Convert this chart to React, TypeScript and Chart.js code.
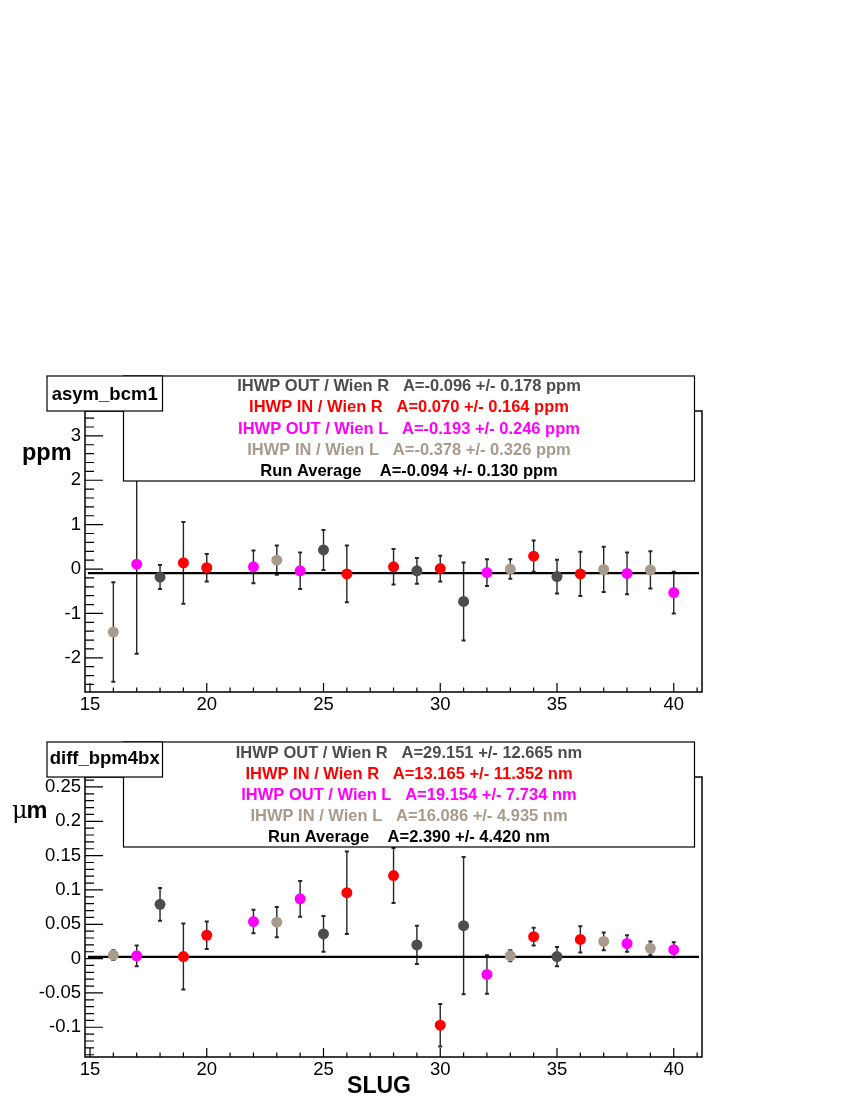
import React, { useEffect, useRef } from 'react';
import { Chart, registerables } from 'chart.js';

Chart.register(...registerables);

const FONT = '"Liberation Sans", Arial, Helvetica, sans-serif';

// colours of the four IHWP / Wien states
const colOutR = '#4d4d4d';
const colInR = '#ff0000';
const colOutL = '#ff00ff';
const colInL = '#a89a8c';

// slugs taken in each state
const slugsOutR = [18, 25, 29, 31, 35];
const slugsInR = [19, 20, 26, 28, 30, 34, 36];
const slugsOutL = [17, 22, 24, 32, 38, 40];
const slugsInL = [16, 23, 33, 37, 39];

// asym_bcm1 [ppm]
const bcmOutR = [-0.18, 0.43, -0.04, -0.73, -0.17];
const bcmOutRErr = [0.27, 0.45, 0.29, 0.88, 0.38];
const bcmInR = [0.14, 0.03, -0.11, 0.05, 0.01, 0.29, -0.11];
const bcmInRErr = [0.92, 0.31, 0.64, 0.4, 0.29, 0.35, 0.5];
const bcmOutL = [0.11, 0.05, -0.04, -0.08, -0.1, -0.53];
const bcmOutLErr = [2.02, 0.37, 0.41, 0.3, 0.47, 0.47];
const bcmInL = [-1.42, 0.2, 0.0, -0.01, -0.02];
const bcmInLErr = [1.12, 0.33, 0.22, 0.51, 0.42];
const bcmAverage = -0.094;

// diff_bpm4bx [um]
const bpmOutR = [0.079, 0.036, 0.02, 0.048, 0.003];
const bpmOutRErr = [0.024, 0.026, 0.028, 0.1, 0.014];
const bpmInR = [0.003, 0.034, 0.096, 0.121, -0.097, 0.032, 0.028];
const bpmInRErr = [0.048, 0.02, 0.06, 0.04, 0.031, 0.013, 0.019];
const bpmOutL = [0.004, 0.054, 0.087, -0.023, 0.022, 0.013];
const bpmOutLErr = [0.015, 0.017, 0.026, 0.028, 0.012, 0.011];
const bpmInL = [0.005, 0.053, 0.004, 0.025, 0.015];
const bpmInLErr = [0.007, 0.022, 0.008, 0.013, 0.01];
const bpmAverage = 0.00239;

// axis ticks
const slugTicks = [15, 20, 25, 30, 35, 40];
const bcmTicks = [-2, -1, 0, 1, 2, 3];
const bpmTicks = [-0.1, -0.05, 0, 0.05, 0.1, 0.15, 0.2, 0.25];

// fit result text
const bcmLegend = [
  'IHWP OUT / Wien R   A=-0.096 +/- 0.178 ppm',
  'IHWP IN / Wien R   A=0.070 +/- 0.164 ppm',
  'IHWP OUT / Wien L   A=-0.193 +/- 0.246 ppm',
  'IHWP IN / Wien L   A=-0.378 +/- 0.326 ppm',
  'Run Average    A=-0.094 +/- 0.130 ppm',
];
const bpmLegend = [
  'IHWP OUT / Wien R   A=29.151 +/- 12.665 nm',
  'IHWP IN / Wien R   A=13.165 +/- 11.352 nm',
  'IHWP OUT / Wien L   A=19.154 +/- 7.734 nm',
  'IHWP IN / Wien L   A=16.086 +/- 4.935 nm',
  'Run Average    A=2.390 +/- 4.420 nm',
];
const legendColors = [colOutR, colInR, colOutL, colInL, '#000000'];

type Series = { slugs: number[]; vals: number[]; errs: number[]; color: string };

type PanelProps = {
  pageTop: number;
  areaTop: number;
  padBottom: number;
  yMin: number;
  yMax: number;
  yTicks: number[];
  yMinor: number;
  series: Series[];
  avg: number;
  title: string;
  legend: string[];
  boxTop: number;
  titleBase: number;
  legendBase: number;
  legendStep: number;
  unit: 'ppm' | 'um';
  unitBase: number;
  slugBase?: number;
};

const Panel = (p: PanelProps) => {
  const canvasRef = useRef<HTMLCanvasElement>(null);
  const chartRef = useRef<Chart>();

  useEffect(() => {
    if (!canvasRef.current) return;
    if (chartRef.current) chartRef.current.destroy();

    const rootStyle = {
      id: 'rootStyle',
      beforeDatasetsDraw(chart: any) {
        const { ctx, chartArea: a, scales } = chart;
        const x = scales.x;
        const y = scales.y;
        ctx.save();
        ctx.beginPath();
        ctx.rect(a.left, a.top, a.right - a.left, a.bottom - a.top);
        ctx.clip();
        ctx.strokeStyle = '#262626';
        p.series.forEach((s) => {
          s.slugs.forEach((sl, i) => {
            const px = x.getPixelForValue(sl);
            const hi = y.getPixelForValue(s.vals[i] + s.errs[i]);
            const lo = y.getPixelForValue(s.vals[i] - s.errs[i]);
            ctx.lineWidth = 1.4;
            ctx.beginPath();
            ctx.moveTo(px, hi);
            ctx.lineTo(px, lo);
            ctx.stroke();
            ctx.lineWidth = 2;
            ctx.beginPath();
            ctx.moveTo(px - 2, hi);
            ctx.lineTo(px + 2, hi);
            ctx.moveTo(px - 2, lo);
            ctx.lineTo(px + 2, lo);
            ctx.stroke();
          });
        });
        ctx.restore();
      },
      afterDraw(chart: any) {
        const { ctx, chartArea: a, scales } = chart;
        const x = scales.x;
        const y = scales.y;
        ctx.save();
        // frame
        ctx.strokeStyle = '#000';
        ctx.lineWidth = 1.5;
        ctx.strokeRect(a.left, a.top, a.right - a.left, a.bottom - a.top);
        // ticks inside the frame
        ctx.lineWidth = 1.2;
        ctx.beginPath();
        p.yTicks.forEach((v) => {
          const py = y.getPixelForValue(v);
          ctx.moveTo(a.left, py);
          ctx.lineTo(a.left + 18, py);
        });
        const k0 = Math.ceil(p.yMin / p.yMinor - 1e-9);
        const k1 = Math.floor(p.yMax / p.yMinor + 1e-9);
        for (let k = k0; k <= k1; k++) {
          const py = y.getPixelForValue(k * p.yMinor);
          ctx.moveTo(a.left, py);
          ctx.lineTo(a.left + 9, py);
        }
        for (let s = 15; s <= 41; s++) {
          const px = x.getPixelForValue(s);
          ctx.moveTo(px, a.bottom);
          ctx.lineTo(px, a.bottom - (s % 5 === 0 ? 9 : 4.5));
        }
        ctx.stroke();

        // fit result box
        ctx.fillStyle = '#fff';
        ctx.fillRect(123.5, p.boxTop, 571, 105);
        ctx.lineWidth = 1.2;
        ctx.strokeRect(123.5, p.boxTop, 571, 105);
        ctx.font = `bold 16.5px ${FONT}`;
        ctx.textAlign = 'center';
        ctx.textBaseline = 'alphabetic';
        p.legend.forEach((t, i) => {
          ctx.fillStyle = legendColors[i];
          ctx.fillText(t, 409, p.legendBase + i * p.legendStep);
        });

        // histogram title box
        ctx.fillStyle = '#fff';
        ctx.fillRect(47, p.boxTop, 115.5, 35);
        ctx.strokeRect(47, p.boxTop, 115.5, 35);
        ctx.fillStyle = '#000';
        ctx.font = `bold 18.5px ${FONT}`;
        ctx.fillText(p.title, 104.7, p.titleBase);

        // axis titles
        ctx.textAlign = 'left';
        if (p.unit === 'ppm') {
          ctx.font = `bold 23.5px ${FONT}`;
          ctx.fillText('ppm', 22, p.unitBase);
        } else {
          ctx.font = '24px "DejaVu Serif", "Liberation Serif", serif';
          ctx.fillText('μ', 12, p.unitBase);
          const w = ctx.measureText('μ').width;
          ctx.font = `bold 23.5px ${FONT}`;
          ctx.fillText('m', 12 + w - 1, p.unitBase);
        }
        if (p.slugBase !== undefined) {
          ctx.textAlign = 'center';
          ctx.font = `bold 23px ${FONT}`;
          ctx.fillText('SLUG', 379, p.slugBase);
        }
        ctx.restore();
      },
    };

    const datasets: any[] = p.series.map((s) => ({
      type: 'scatter',
      data: s.slugs.map((sl, i) => ({ x: sl, y: s.vals[i] })),
      backgroundColor: s.color,
      borderColor: s.color,
      pointRadius: 5.5,
      borderWidth: 0,
      order: 0,
    }));
    datasets.push({
      type: 'line',
      data: [
        { x: 14.91, y: p.avg },
        { x: 41.08, y: p.avg },
      ],
      borderColor: '#000',
      borderWidth: 2.2,
      pointRadius: 0,
      order: 10,
    });

    chartRef.current = new Chart(canvasRef.current, {
      type: 'scatter',
      data: { datasets },
      options: {
        animation: false,
        responsive: false,
        maintainAspectRatio: false,
        layout: { padding: { left: 35, right: 148, top: p.areaTop, bottom: p.padBottom } },
        plugins: { legend: { display: false }, tooltip: { enabled: false } },
        scales: {
          x: {
            type: 'linear',
            min: 14.786,
            max: 41.21,
            grid: { display: false, drawTicks: false },
            border: { display: false },
            ticks: { color: '#000', font: { family: FONT, size: 18.5 }, padding: 2, maxRotation: 0 },
            afterBuildTicks: (s: any) => {
              s.ticks = slugTicks.map((v) => ({ value: v }));
            },
            afterFit: (s: any) => {
              s.height = 30;
            },
          },
          y: {
            type: 'linear',
            min: p.yMin,
            max: p.yMax,
            grid: { display: false, drawTicks: false },
            border: { display: false },
            ticks: {
              color: '#000',
              font: { family: FONT, size: 18.5 },
              padding: 4,
              callback: (v: any) => String(Math.round(Number(v) * 1000) / 1000),
            },
            afterBuildTicks: (s: any) => {
              s.ticks = p.yTicks.map((v) => ({ value: v }));
            },
            afterFit: (s: any) => {
              s.width = 50;
            },
          },
        },
      },
      plugins: [rootStyle],
    });

    return () => {
      if (chartRef.current) {
        chartRef.current.destroy();
        chartRef.current = undefined;
      }
    };
  }, []);

  return (
    <canvas
      ref={canvasRef}
      width={850}
      height={370}
      style={{ position: 'absolute', left: 0, top: p.pageTop, width: 850, height: 370 }}
    />
  );
};

const App = () => {
  const bcmSeries: Series[] = [
    { slugs: slugsOutR, vals: bcmOutR, errs: bcmOutRErr, color: colOutR },
    { slugs: slugsInR, vals: bcmInR, errs: bcmInRErr, color: colInR },
    { slugs: slugsOutL, vals: bcmOutL, errs: bcmOutLErr, color: colOutL },
    { slugs: slugsInL, vals: bcmInL, errs: bcmInLErr, color: colInL },
  ];
  const bpmSeries: Series[] = [
    { slugs: slugsOutR, vals: bpmOutR, errs: bpmOutRErr, color: colOutR },
    { slugs: slugsInR, vals: bpmInR, errs: bpmInRErr, color: colInR },
    { slugs: slugsOutL, vals: bpmOutL, errs: bpmOutLErr, color: colOutL },
    { slugs: slugsInL, vals: bpmInL, errs: bpmInLErr, color: colInL },
  ];

  return (
    <div style={{ position: 'absolute', left: 0, top: 0, width: 850, height: 1100, background: '#fff' }}>
      <Panel
        pageTop={360}
        areaTop={51}
        padBottom={8}
        yMin={-2.77}
        yMax={3.56}
        yTicks={bcmTicks}
        yMinor={0.2}
        series={bcmSeries}
        avg={bcmAverage}
        title="asym_bcm1"
        legend={bcmLegend}
        boxTop={16}
        titleBase={39.5}
        legendBase={30.7}
        legendStep={21.4}
        unit="ppm"
        unitBase={100}
      />
      <Panel
        pageTop={730}
        areaTop={47}
        padBottom={13}
        yMin={-0.1433}
        yMax={0.2645}
        yTicks={bpmTicks}
        yMinor={0.01}
        series={bpmSeries}
        avg={bpmAverage}
        title="diff_bpm4bx"
        legend={bpmLegend}
        boxTop={12}
        titleBase={34}
        legendBase={28}
        legendStep={20.9}
        unit="um"
        unitBase={88}
        slugBase={363}
      />
    </div>
  );
};

export default App;
